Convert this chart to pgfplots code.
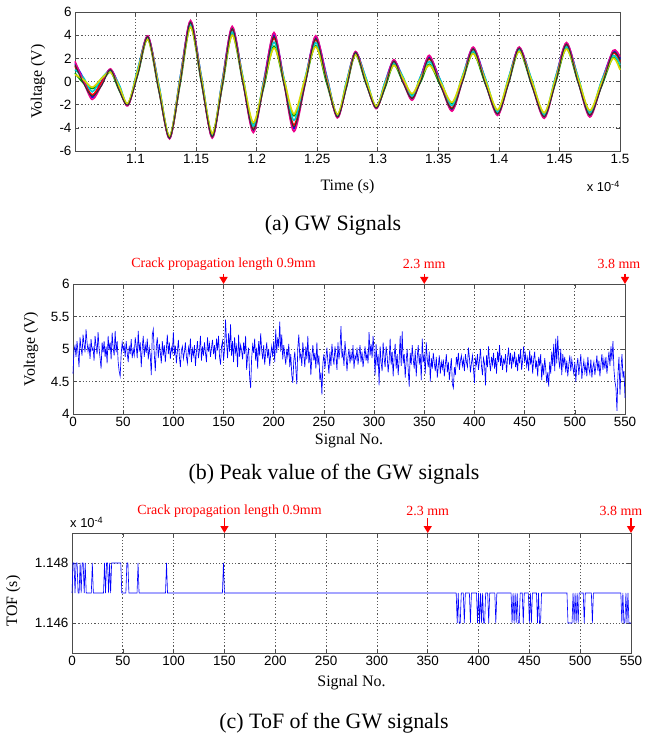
\documentclass[border=0pt]{standalone}
\usepackage{fontspec}
\setmainfont{Liberation Serif}
\newfontfamily\arial{Liberation Sans}
\usepackage{pgfplots}
\pgfplotsset{compat=1.18}
\usepackage{pgfplotstable}
\usetikzlibrary{arrows.meta}

% (a) GW signals, time in units of 1e-4 s: extrema and mid points of each trace
\pgfplotstableread{
t y1 y2 y3 y4 y5 y6 y7
1.0500 1.56 0.72 1.32 1.02 1.74 0.60 1.44
1.0571 0.24 -0.15 0.08 0.32 -0.01 0.15 -0.17
1.0642 -1.38 -0.61 -1.16 -0.89 -1.55 -0.50 -1.27
1.0718 -0.02 -0.09 -0.09 0.26 -0.33 0.25 -0.38
1.0793 1.04 0.83 0.98 0.90 1.09 0.80 1.01
1.0865 -0.36 -0.75 -0.52 -0.29 -0.60 -0.45 -0.77
1.0937 -2.06 -1.92 -2.02 -1.97 -2.09 -1.90 -2.04
1.1020 1.07 0.68 0.91 1.15 0.83 0.98 0.66
1.1102 3.89 3.68 3.83 3.76 3.94 3.65 3.86
1.1192 -0.36 -0.75 -0.52 -0.28 -0.60 -0.45 -0.77
1.1281 -4.91 -4.77 -4.87 -4.82 -4.94 -4.75 -4.89
1.1368 0.29 -0.21 0.10 0.30 0.07 0.08 -0.14
1.1454 5.18 4.76 5.06 4.91 5.27 4.70 5.12
1.1544 0.33 -0.09 0.16 0.39 0.10 0.20 -0.08
1.1633 -4.82 -4.54 -4.74 -4.64 -4.88 -4.50 -4.78
1.1716 0.06 -0.43 -0.13 0.07 -0.16 -0.15 -0.36
1.1798 4.64 4.08 4.48 4.28 4.76 4.00 4.56
1.1885 0.34 0.02 0.20 0.46 0.08 0.33 -0.06
1.1972 -4.27 -3.64 -4.09 -3.87 -4.41 -3.55 -4.18
1.2058 0.03 -0.50 -0.18 0.01 -0.19 -0.23 -0.40
1.2143 4.02 3.04 3.74 3.39 4.23 2.90 3.88
1.2226 0.12 -0.16 -0.01 0.27 -0.15 0.15 -0.27
1.2308 -4.08 -2.96 -3.76 -3.36 -4.32 -2.80 -3.92
1.2398 0.01 -0.13 -0.08 0.25 -0.29 0.20 -0.36
1.2487 3.80 3.10 3.60 3.35 3.95 3.00 3.70
1.2577 0.51 -0.09 0.29 0.45 0.31 0.18 0.07
1.2666 -3.09 -2.88 -3.03 -2.96 -3.14 -2.85 -3.06
1.2741 -0.13 -0.48 -0.28 -0.03 -0.38 -0.18 -0.53
1.2816 2.54 2.33 2.48 2.41 2.59 2.30 2.51
1.2901 0.27 -0.12 0.11 0.35 0.03 0.18 -0.14
1.2986 -2.31 -2.17 -2.27 -2.22 -2.34 -2.15 -2.29
1.3059 -0.11 -0.56 -0.29 -0.07 -0.33 -0.28 -0.52
1.3132 1.80 1.45 1.70 1.58 1.88 1.40 1.75
1.3208 0.29 -0.03 0.15 0.41 0.03 0.28 -0.11
1.3283 -1.53 -1.11 -1.41 -1.26 -1.62 -1.05 -1.47
1.3355 0.45 -0.01 0.27 0.48 0.22 0.28 0.03
1.3426 2.12 1.49 1.94 1.72 2.26 1.40 2.03
1.3520 -0.01 -0.40 -0.17 0.07 -0.25 -0.10 -0.42
1.3613 -2.44 -1.88 -2.28 -2.08 -2.56 -1.80 -2.36
1.3700 0.37 0.09 0.24 0.52 0.11 0.40 -0.02
1.3788 2.88 2.46 2.76 2.61 2.97 2.40 2.82
1.3889 0.17 -0.22 0.01 0.24 -0.08 0.08 -0.24
1.3989 -2.85 -2.50 -2.75 -2.63 -2.93 -2.45 -2.80
1.4079 0.19 -0.13 0.05 0.31 -0.08 0.18 -0.21
1.4168 2.92 2.64 2.84 2.74 2.98 2.60 2.88
1.4271 0.06 -0.26 -0.08 0.18 -0.20 0.05 -0.34
1.4374 -3.10 -2.75 -3.00 -2.88 -3.18 -2.70 -3.05
1.4466 0.24 -0.15 0.08 0.32 0.00 0.15 -0.17
1.4558 3.28 2.86 3.16 3.01 3.37 2.80 3.22
1.4654 0.30 -0.05 0.15 0.40 0.05 0.25 -0.10
1.4750 -2.98 -2.56 -2.86 -2.71 -3.07 -2.50 -2.92
1.4846 -0.06 -0.45 -0.22 0.02 -0.30 -0.15 -0.47
1.4942 2.56 2.07 2.42 2.25 2.67 2.00 2.49
1.5000 1.96 1.12 1.72 1.42 2.14 1.00 1.84
}\gwdata

% (b) peak value of each signal, signals 0..550
\pgfplotstableread[header=false,row sep=\\]{
4.62\\4.98\\5.05\\4.88\\5.12\\4.95\\4.72\\5.18\\5.02\\4.90\\
5.22\\5.08\\4.95\\5.30\\5.10\\4.96\\5.05\\4.85\\5.15\\4.98\\
5.02\\4.82\\5.20\\5.05\\4.92\\5.26\\5.00\\4.86\\4.70\\5.10\\
4.95\\5.12\\4.88\\5.04\\4.78\\5.20\\4.98\\5.10\\4.84\\5.25\\
5.02\\4.90\\5.28\\4.95\\5.12\\4.80\\4.66\\4.58\\4.92\\5.10\\
4.98\\5.05\\4.88\\5.12\\4.94\\4.80\\5.05\\4.92\\5.15\\4.86\\
5.00\\4.90\\5.18\\5.04\\4.86\\5.28\\4.96\\5.10\\4.72\\5.02\\
5.20\\4.88\\5.06\\4.94\\5.16\\4.84\\5.02\\4.90\\4.60\\5.22\\
5.30\\4.92\\4.66\\5.04\\5.18\\4.86\\5.08\\4.95\\4.78\\5.12\\
4.90\\5.06\\4.80\\5.00\\5.22\\4.92\\5.10\\4.85\\5.02\\4.95\\
5.26\\4.90\\5.05\\4.78\\4.96\\5.14\\4.88\\4.72\\4.98\\5.04\\
4.85\\4.95\\5.10\\4.88\\4.78\\5.02\\4.92\\5.16\\4.80\\5.00\\
4.90\\5.06\\4.74\\4.96\\5.12\\4.86\\4.98\\5.20\\4.82\\5.04\\
4.90\\5.10\\4.94\\4.80\\5.18\\4.96\\5.08\\4.88\\5.02\\5.14\\
4.92\\5.06\\4.84\\5.16\\4.98\\5.20\\4.88\\4.76\\5.04\\5.12\\
4.82\\5.00\\5.45\\5.10\\4.86\\5.24\\4.96\\5.38\\4.90\\5.12\\
4.80\\5.18\\4.94\\5.04\\4.72\\5.22\\4.88\\5.06\\4.98\\4.84\\
5.10\\4.92\\5.20\\4.68\\4.90\\5.02\\4.56\\4.40\\4.86\\5.06\\
4.94\\5.16\\4.82\\5.02\\4.70\\5.12\\4.90\\5.24\\4.98\\4.84\\
5.06\\4.76\\4.94\\5.10\\4.86\\5.00\\4.74\\4.92\\5.04\\4.88\\
5.12\\4.80\\5.30\\4.94\\5.18\\5.02\\5.42\\4.96\\5.22\\4.84\\
5.06\\4.90\\4.76\\5.00\\4.88\\5.08\\4.72\\4.92\\4.60\\4.48\\
4.82\\4.96\\4.70\\4.46\\5.02\\5.22\\4.86\\4.94\\4.74\\5.10\\
4.90\\4.72\\5.04\\4.84\\5.20\\4.78\\4.96\\4.60\\4.88\\5.06\\
4.82\\4.94\\4.70\\5.10\\4.76\\4.90\\4.52\\4.64\\4.30\\4.78\\
4.92\\4.70\\4.86\\5.02\\4.80\\4.62\\4.96\\4.74\\5.08\\4.88\\
4.76\\5.04\\4.90\\4.68\\5.10\\4.84\\5.00\\5.35\\4.86\\4.96\\
4.74\\5.12\\4.92\\4.66\\4.88\\5.00\\4.78\\4.94\\4.82\\5.06\\
4.70\\4.90\\4.84\\5.02\\4.76\\4.92\\5.06\\4.80\\4.96\\4.72\\
4.88\\5.04\\4.82\\4.94\\4.78\\5.26\\4.90\\5.08\\4.86\\5.20\\
4.96\\4.60\\5.08\\4.74\\4.92\\4.44\\5.04\\4.80\\4.66\\5.10\\
4.86\\4.72\\5.04\\4.90\\4.64\\4.82\\5.16\\4.76\\4.96\\4.58\\
4.88\\5.08\\4.70\\4.92\\4.60\\4.84\\5.20\\4.74\\5.27\\4.78\\
4.92\\4.56\\4.82\\5.00\\4.68\\4.42\\4.94\\4.76\\5.06\\4.84\\
4.70\\4.98\\4.58\\4.88\\5.06\\4.76\\4.92\\4.52\\5.16\\4.80\\
4.90\\4.62\\5.10\\4.84\\4.72\\4.96\\4.50\\4.86\\4.70\\4.94\\
4.78\\4.66\\4.88\\4.56\\4.74\\4.90\\4.62\\4.80\\4.70\\4.84\\
4.58\\4.76\\4.92\\4.64\\4.80\\4.52\\4.70\\4.86\\4.46\\4.40\\
4.72\\4.60\\4.88\\4.76\\4.94\\4.68\\4.82\\4.90\\4.74\\4.84\\
4.66\\4.92\\4.80\\4.72\\5.02\\4.86\\4.64\\4.78\\4.90\\4.70\\
4.48\\4.84\\4.76\\4.92\\4.68\\4.82\\5.00\\4.74\\4.60\\4.86\\
4.78\\4.44\\4.90\\4.72\\5.04\\4.80\\4.66\\4.88\\4.76\\4.94\\
4.70\\4.86\\4.62\\4.96\\4.80\\5.06\\4.74\\4.90\\4.68\\4.84\\
4.78\\4.92\\4.64\\4.86\\5.02\\4.76\\4.94\\4.70\\4.88\\4.80\\
4.96\\4.72\\4.84\\4.66\\4.92\\4.78\\5.00\\4.68\\4.82\\5.04\\
4.80\\4.92\\4.74\\4.86\\4.66\\4.98\\4.76\\4.90\\4.62\\4.84\\
4.96\\4.70\\4.82\\4.58\\4.88\\4.74\\4.92\\4.52\\4.78\\4.60\\
4.86\\4.70\\4.48\\4.64\\4.42\\4.80\\4.62\\4.96\\4.74\\5.08\\
4.66\\5.16\\4.78\\5.20\\4.84\\4.70\\5.00\\4.60\\4.92\\4.76\\
4.88\\4.64\\4.82\\4.58\\4.76\\4.90\\4.66\\4.84\\4.72\\4.62\\
4.80\\4.50\\4.74\\4.86\\4.60\\4.76\\4.92\\4.54\\4.70\\4.82\\
4.64\\4.76\\4.58\\4.88\\4.70\\4.62\\4.84\\4.56\\4.72\\4.80\\
4.60\\4.74\\4.90\\4.66\\4.82\\4.58\\4.76\\4.92\\4.68\\4.84\\
4.70\\4.88\\4.62\\4.80\\4.96\\4.74\\5.04\\4.82\\5.12\\4.68\\
4.50\\4.40\\4.05\\4.62\\4.88\\4.30\\4.70\\4.92\\4.56\\4.66\\
4.25\\
}\peakdata

\definecolor{mgreen}{rgb}{0,0.6,0}
\definecolor{myellow}{rgb}{0.85,0.85,0}
\definecolor{mcyan}{rgb}{0,0.8,0.8}

\pgfplotsset{
  mstyle/.style={
    scale only axis,
    clip=false,
    axis line style={black!70, line width=0.8bp},
    tick align=inside,
    major tick length=4bp,
    tick style={black!70, line width=0.6bp},
    grid=major,
    grid style={dash pattern=on 1.2bp off 2bp, black!65, line width=0.7bp},
    tick label style={font=\arial\fontsize{13.5}{15}\selectfont},
    /pgf/number format/assume math mode=true,
    label style={font=\fontsize{16}{18}\selectfont},
  },
}
\tikzset{
  redlab/.style={text=red, font=\fontsize{14}{16}\selectfont, inner sep=0pt},
  redarr/.style={red, line width=1.4bp, -{Triangle[width=8bp,length=7bp]}},
  caption/.style={font=\fontsize{22}{25}\selectfont, inner sep=0pt},
}

\begin{document}
\begin{tikzpicture}
\path[use as bounding box] (0,0) rectangle (646bp,738bp);

% ---------------- (a) ----------------
\begin{axis}[mstyle,
  at={(75bp,587bp)}, anchor=south west,
  width=545bp, height=139bp,
  xmin=1.05, xmax=1.5, ymin=-6, ymax=6,
  xtick={1.1,1.15,1.2,1.25,1.3,1.35,1.4,1.45,1.5},
  xticklabels={1.1,1.15,1.2,1.25,1.3,1.35,1.4,1.45,1.5},
  ytick={-6,-4,-2,0,2,4,6},
  xlabel={Time (s)}, ylabel={Voltage (V)},
  xlabel style={at={(axis description cs:0.5,-0.259)}, anchor=center},
  ylabel style={at={(axis description cs:-0.068,0.5)}, anchor=center},
]
\addplot[smooth, line width=1.6bp, blue]    table[x=t, y=y1] {\gwdata};
\addplot[smooth, line width=1.6bp, mgreen]  table[x=t, y=y2] {\gwdata};
\addplot[smooth, line width=1.6bp, red]     table[x=t, y=y3] {\gwdata};
\addplot[smooth, line width=1.6bp, mcyan]   table[x=t, y=y4] {\gwdata};
\addplot[smooth, line width=1.6bp, magenta] table[x=t, y=y5] {\gwdata};
\addplot[smooth, line width=1.6bp, myellow] table[x=t, y=y6] {\gwdata};
\addplot[smooth, line width=1.1bp, black!80] table[x=t, y=y7] {\gwdata};
\node[anchor=north east, inner sep=0pt, font=\arial\fontsize{13}{15}\selectfont]
  at (rel axis cs:1,0) [yshift=-30bp] {x 10\textsuperscript{-4}};
\end{axis}
\node[caption] at (333bp,513bp) {(a) GW Signals};

% ---------------- (b) ----------------
\begin{axis}[mstyle,
  at={(73bp,324bp)}, anchor=south west,
  width=552bp, height=130bp,
  xmin=0, xmax=550, ymin=4, ymax=6,
  xtick={0,50,100,150,200,250,300,350,400,450,500,550},
  ytick={4,4.5,5,5.5,6},
  yticklabels={4,4.5,5,5.5,6},
  xlabel={Signal No.}, ylabel={Voltage (V)},
  xlabel style={at={(axis description cs:0.5,-0.205)}, anchor=center},
  ylabel style={at={(axis description cs:-0.076,0.5)}, anchor=center},
]
\addplot[blue, line width=0.65bp] table[x expr=\coordindex, y index=0] {\peakdata};
\draw[redarr] ([yshift=10bp]rel axis cs:0.272727,1) -- (rel axis cs:0.272727,1);
\draw[redarr] ([yshift=10bp]rel axis cs:0.636364,1) -- (rel axis cs:0.636364,1);
\draw[redarr] ([yshift=10bp]rel axis cs:1,1) -- (rel axis cs:1,1);
\node[redlab] at ([yshift=20bp]rel axis cs:0.272727,1) {Crack propagation length 0.9mm};
\node[redlab] at ([yshift=20bp]rel axis cs:0.636364,1) {2.3 mm};
\node[redlab] at ([yshift=20bp, xshift=-6bp]rel axis cs:1,1) {3.8 mm};
\end{axis}
\node[caption] at (334bp,264bp) {(b) Peak value of the GW signals};

% ---------------- (c) ----------------
% TOF values in units of 1e-4 s; drawn relative to 1.145 so the narrow range fits
\begin{axis}[mstyle,
  at={(72bp,85bp)}, anchor=south west,
  width=559bp, height=120bp,
  xmin=0, xmax=550, ymin=0, ymax=4,
  y filter/.expression={(y-1.145)*1000},
  xtick={0,50,100,150,200,250,300,350,400,450,500,550},
  ytick={1,3},
  yticklabels={1.146,1.148},
  xlabel={Signal No.}, ylabel={TOF (s)},
  xlabel style={at={(axis description cs:0.5,-0.245)}, anchor=center},
  ylabel style={at={(axis description cs:-0.105,0.435)}, anchor=center},
]
\addplot[blue, line width=0.6bp] coordinates {
(0,1.147)(1,1.148)(2,1.148)(3,1.147)(4,1.148)(5,1.148)(6,1.147)(7,1.147)
(8,1.148)(9,1.147)(10,1.148)(11,1.148)(12,1.147)(13,1.148)(14,1.147)
(19,1.147)(20,1.148)(21,1.147)(31,1.147)(32,1.148)(33,1.147)(34,1.148)
(35,1.148)(36,1.147)(37,1.148)(38,1.147)(39,1.148)(48,1.148)(49,1.147)
(53,1.147)(54,1.148)(55,1.148)(56,1.147)(64,1.147)(65,1.148)(66,1.147)
(92,1.147)(93,1.148)(94,1.147)(148,1.147)(149,1.148)(150,1.147)
(378,1.147)(379,1.146)(380,1.147)(381,1.146)(382,1.146)(383,1.147)
(385,1.147)(386,1.146)(387,1.147)(391,1.147)(392,1.146)(393,1.147)
(398,1.147)(399,1.146)(400,1.147)(401,1.146)(402,1.147)(403,1.146)
(404,1.147)(405,1.146)(406,1.146)(407,1.147)(409,1.147)(410,1.146)
(411,1.147)(416,1.147)(417,1.146)(418,1.147)(432,1.147)(433,1.146)
(434,1.147)(435,1.146)(436,1.147)(437,1.146)(438,1.147)(439,1.146)
(440,1.146)(441,1.147)(443,1.147)(444,1.146)(445,1.147)(449,1.147)
(450,1.146)(451,1.147)(452,1.146)(453,1.147)(457,1.147)(458,1.146)
(459,1.147)(460,1.146)(461,1.146)(462,1.147)(487,1.147)(488,1.146)
(492,1.146)(493,1.147)(494,1.146)(495,1.147)(496,1.146)(497,1.147)
(498,1.146)(499,1.147)(503,1.147)(504,1.146)(505,1.147)(511,1.147)
(512,1.146)(513,1.147)(540,1.147)(541,1.146)(542,1.147)(543,1.146)
(544,1.146)(545,1.147)(546,1.146)(547,1.147)(548,1.146)(550,1.146)
};
\draw[redarr] ([yshift=15bp]rel axis cs:0.272727,1) -- (rel axis cs:0.272727,1);
\draw[redarr] ([yshift=15bp]rel axis cs:0.636364,1) -- (rel axis cs:0.636364,1);
\draw[redarr] ([yshift=15bp]rel axis cs:1,1) -- (rel axis cs:1,1);
\node[redlab] at ([yshift=22bp, xshift=5bp]rel axis cs:0.272727,1) {Crack propagation length 0.9mm};
\node[redlab] at ([yshift=22bp]rel axis cs:0.636364,1) {2.3 mm};
\node[redlab] at ([yshift=22bp, xshift=-10bp]rel axis cs:1,1) {3.8 mm};
\node[anchor=south west, inner sep=0pt, font=\arial\fontsize{13}{15}\selectfont]
  at ([yshift=5bp, xshift=-2bp]rel axis cs:0,1) {x 10\textsuperscript{-4}};
\end{axis}
\node[caption] at (334bp,15bp) {(c) ToF of the GW signals};
\end{tikzpicture}
\end{document}
